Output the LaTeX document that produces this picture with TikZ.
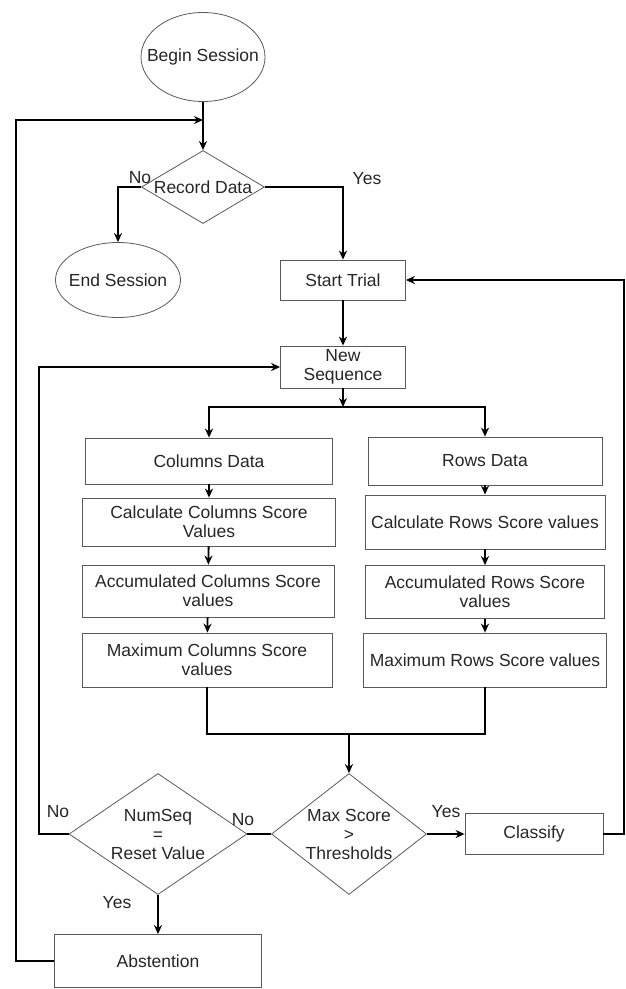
\documentclass[tikz,border=0pt]{standalone}
\usepackage{fontspec}
\setmainfont{Liberation Sans}
\usetikzlibrary{shapes.geometric,arrows.meta}

\tikzset{
  proc/.style={rectangle, draw=black!65, line width=0.8pt, align=center, inner sep=2pt},
  term/.style={ellipse, draw=black!65, line width=0.8pt, inner sep=0pt},
  decision/.style={diamond, draw=black!65, line width=0.8pt, inner sep=0pt, aspect=1},
  txt/.style={align=center, inner sep=0pt},
  flow/.style={line width=1.8pt, -{Stealth[length=9pt,width=8pt]}},
  back/.style={line width=1.4pt, -{Stealth[length=9pt,width=8pt]}},
}

\begin{document}
\begin{tikzpicture}[x=1pt, y=-1pt, font=\fontsize{17.5}{19}\selectfont, text=black!85]
  \useasboundingbox (0,0) rectangle (626,989);

  % start / end
  \node[term, minimum width=124pt, minimum height=89pt] (begin) at (203,57) {};
  \node[txt] (begintxt) at (begin) {Begin Session};
  \node[term, minimum width=125pt, minimum height=75pt] (endsess) at (118,280) {};
  \node[txt] (endsesstxt) at (endsess) {End Session};

  % decisions
  \node[decision, minimum width=123pt, minimum height=73pt] (record) at (203,187) {};
  \node[txt] (recordtxt) at (record) {Record Data};
  \node[decision, minimum width=155pt, minimum height=121pt] (maxscore) at (349,834) {};
  \node[txt] (maxscoretxt) at (maxscore) {Max Score\\>\\Thresholds};
  \node[decision, minimum width=178pt, minimum height=121pt] (numseq) at (158,834) {};
  \node[txt] (numseqtxt) at (numseq) {NumSeq\\=\\Reset Value};

  % process boxes
  \node[proc, minimum width=125pt, minimum height=40pt] (start) at (343,280) {Start Trial};
  \node[proc, minimum width=125pt, minimum height=42pt] (newseq) at (343,367) {New\\Sequence};
  \node[proc, minimum width=247pt, minimum height=46pt] (coldata) at (209,461) {Columns Data};
  \node[proc, minimum width=234pt, minimum height=48pt] (rowdata) at (485,461) {Rows Data};
  \node[proc, minimum width=253pt, minimum height=48pt] (calccol) at (209,522) {Calculate Columns Score\\Values};
  \node[proc, minimum width=240pt, minimum height=54pt] (calcrow) at (485,522) {Calculate Rows Score values};
  \node[proc, minimum width=252pt, minimum height=52pt] (acccol) at (208,591) {Accumulated Columns Score\\values};
  \node[proc, minimum width=239pt, minimum height=53pt] (accrow) at (485,592) {Accumulated Rows Score\\values};
  \node[proc, minimum width=250pt, minimum height=54pt] (maxcol) at (207,660) {Maximum Columns Score\\values};
  \node[proc, minimum width=243pt, minimum height=54pt] (maxrow) at (485,660) {Maximum Rows Score values};
  \node[proc, minimum width=138pt, minimum height=41pt] (classify) at (534,834) {Classify};
  \node[proc, minimum width=207pt, minimum height=53pt] (abst) at (158,961) {Abstention};

  % branch labels
  \node[txt] (recordno) at (140,178) {No};
  \node[txt] (recordyes) at (367,179) {Yes};
  \node[txt] (maxyes) at (446,812) {Yes};
  \node[txt] (maxno) at (243,820) {No};
  \node[txt] (numno) at (58,812) {No};
  \node[txt] (numyes) at (117,903) {Yes};

  % junctions
  \coordinate (entry) at (203,120);
  \coordinate (leftrail) at (16,120);
  \coordinate (innerrail) at (39,367);
  \coordinate (rightrail) at (624,280);
  \coordinate (split) at (343,407);
  \coordinate (merge) at (349,734);

  % main flow
  \draw[flow] (begin.south) -- (record.north);
  \draw[flow] (record.west) -| (endsess.north);
  \draw[flow] (record.east) -| (start.north);
  \draw[flow] (start.south) -- (newseq.north);
  \draw[flow] (newseq.south) -- (split);
  \draw[flow, line width=2.2pt] (split) -| (coldata.north);
  \draw[flow, line width=2.2pt] (split) -| (rowdata.north);
  \draw[flow] (coldata) -- (calccol);
  \draw[flow] (calccol) -- (acccol);
  \draw[flow] (acccol) -- (maxcol);
  \draw[flow] (rowdata) -- (calcrow);
  \draw[flow] (calcrow) -- (accrow);
  \draw[flow] (accrow) -- (maxrow);
  \draw[flow, -] (maxcol.south) |- (merge) -| (maxrow.south);
  \draw[flow] (merge) -- (maxscore.north);
  \draw[flow] (maxscore.east) -- (classify.west);
  \draw[flow, -] (maxscore.west) -- (numseq.east);
  \draw[flow] (numseq.south) -- (abst.north);

  % loops back
  \draw[back] (abst.west) -| (leftrail) -- (entry);
  \draw[back] (numseq.west) -| (innerrail) -- (newseq.west);
  \draw[back] (classify.east) -| (rightrail) -- (start.east);
\end{tikzpicture}
\end{document}
